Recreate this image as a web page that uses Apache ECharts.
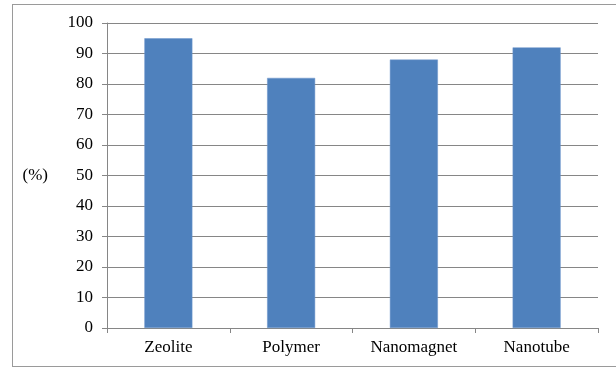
<!DOCTYPE html>
<html>
<head>
<meta charset="utf-8">
<script src="https://cdn.jsdelivr.net/npm/echarts@6/dist/echarts.min.js"></script>
<style>
  html, body { margin: 0; padding: 0; background: #fff; overflow: hidden; }
  #wrap { position: relative; width: 616px; height: 368px; }
  #frame { position: absolute; left: 12px; top: 4px; width: 640px; height: 361px; border: 1px solid #9a9a9a; pointer-events: none; }
  #chart { position: absolute; left: 0; top: 0; width: 616px; height: 368px; }
</style>
</head>
<body>
<div id="wrap">
  <div id="chart"></div>
  <div id="frame"></div>
</div>
<script>
var categories = ['Zeolite', 'Polymer', 'Nanomagnet', 'Nanotube'];
var values = [95, 82, 88, 92];
var yTicks = [0, 100, 10]; // min, max, step

var chart = echarts.init(document.getElementById('chart'));

chart.setOption({
  grid: {
    left: 107,
    right: 18,
    top: 23,
    bottom: 40
  },
  xAxis: {
    type: 'category',
    data: categories,
    axisLine: { lineStyle: { color: '#868686' } },
    axisTick: { show: true, length: 5, lineStyle: { color: '#868686' } },
    axisLabel: { color: '#000', fontFamily: 'Liberation Serif', fontSize: 17, margin: 11 }
  },
  yAxis: {
    type: 'value',
    min: yTicks[0],
    max: yTicks[1],
    interval: yTicks[2],
    name: '(%)',
    nameLocation: 'middle',
    nameRotate: 0,
    nameGap: 59,
    nameTextStyle: { color: '#000', fontFamily: 'Liberation Serif', fontSize: 17 },
    axisLine: { show: true, lineStyle: { color: '#868686' } },
    axisTick: { show: true, length: 5, lineStyle: { color: '#868686' } },
    axisLabel: { color: '#000', fontFamily: 'Liberation Serif', fontSize: 17, margin: 14 },
    splitLine: { lineStyle: { color: '#868686' } }
  },
  series: [{
    type: 'bar',
    data: values,
    barWidth: 48,
    itemStyle: { color: '#4f81bd', borderColor: '#6f97cc', borderWidth: 0.5 }
  }]
});
</script>
</body>
</html>
